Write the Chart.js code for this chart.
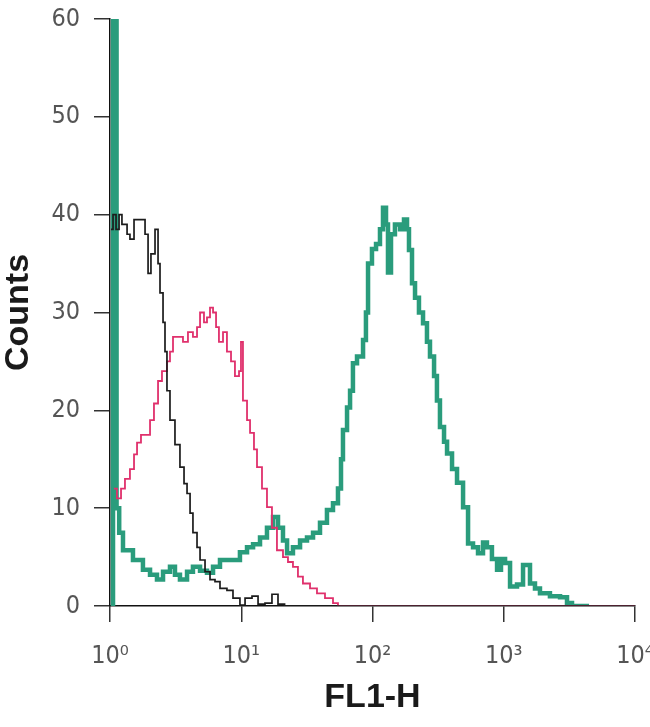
<!DOCTYPE html>
<html>
<head>
<meta charset="utf-8">
<script src="https://cdn.jsdelivr.net/npm/chart.js@4/dist/chart.umd.min.js"></script>
<style>
  html, body { margin: 0; padding: 0; background: #fff; }
  #wrap { width: 650px; height: 727px; }
</style>
</head>
<body>
<div id="wrap"><canvas id="histChart" width="650" height="727"></canvas></div>
<script>
// x positions are in log10 decades of FL1-H (0 = 10^0 ... 4 = 10^4)
const decadeTicks = [0, 1, 2, 3, 4];
const decadeLabels = ['10\u2070', '10\u00b9', '10\u00b2', '10\u00b3', '10\u2074'];
const countTicks = [0, 10, 20, 30, 40, 50, 60];

// isotype control (black)
const blackX = [0.008, 0.023, 0.046, 0.069, 0.091, 0.130, 0.152, 0.183, 0.229, 0.267, 0.290, 0.312, 0.343, 0.366, 0.381, 0.404, 0.419, 0.434, 0.457, 0.495, 0.533, 0.564, 0.587, 0.610, 0.632, 0.663, 0.686, 0.724, 0.762, 0.800, 0.838, 0.891, 0.937, 0.990, 1.029, 1.082, 1.128, 1.181, 1.234, 1.280, 1.330, 4.0];
const blackCounts = [38.5, 40, 38.5, 40, 39, 38, 37.5, 39.5, 39.5, 38, 34, 36, 38.5, 35, 32, 29, 26, 22, 19, 16.5, 14.2, 12.5, 11.5, 9.5, 7.5, 6, 4.7, 3.5, 2.7, 2.5, 1.8, 1.6, 0.8, 0.1, 0.8, 1, 0.2, 0.3, 1.2, 0.2, 0, 0];

// magenta
const pinkX = [0.030, 0.053, 0.084, 0.114, 0.152, 0.183, 0.206, 0.236, 0.274, 0.305, 0.335, 0.366, 0.396, 0.434, 0.457, 0.480, 0.518, 0.556, 0.594, 0.632, 0.663, 0.686, 0.716, 0.739, 0.762, 0.785, 0.808, 0.830, 0.861, 0.891, 0.922, 0.952, 0.983, 0.998, 1.013, 1.044, 1.067, 1.097, 1.120, 1.158, 1.196, 1.234, 1.272, 1.318, 1.356, 1.394, 1.432, 1.470, 1.524, 1.577, 1.638, 1.699, 1.737, 4.0];
const pinkCounts = [12, 11, 12, 13, 14, 15.5, 16.7, 17.5, 17.5, 19, 20.7, 23, 24, 25, 26, 27.5, 27.5, 27, 28, 27.5, 28.5, 30, 29, 29.5, 30.5, 30, 28.5, 27, 28, 26, 25, 23.5, 24, 27, 21, 19, 17.7, 16, 14.2, 12, 10.1, 8, 5.7, 5, 4.5, 4, 3, 2.3, 1.8, 1.3, 0.8, 0.3, 0, 0];

// stained sample (teal)
const tealX = [0.023, 0.023, 0.050, 0.070, 0.099, 0.175, 0.251, 0.305, 0.358, 0.404, 0.457, 0.495, 0.533, 0.587, 0.632, 0.686, 0.739, 0.785, 0.838, 0.937, 0.990, 1.044, 1.090, 1.143, 1.196, 1.242, 1.280, 1.318, 1.349, 1.394, 1.448, 1.501, 1.547, 1.600, 1.653, 1.699, 1.737, 1.760, 1.775, 1.806, 1.829, 1.851, 1.882, 1.928, 1.950, 1.966, 1.996, 2.027, 2.057, 2.080, 2.103, 2.118, 2.141, 2.171, 2.210, 2.240, 2.263, 2.278, 2.301, 2.324, 2.354, 2.385, 2.415, 2.438, 2.469, 2.491, 2.514, 2.545, 2.568, 2.606, 2.644, 2.690, 2.728, 2.766, 2.804, 2.842, 2.872, 2.910, 2.949, 2.979, 3.010, 3.048, 3.101, 3.147, 3.200, 3.238, 3.276, 3.352, 3.429, 3.482, 3.520, 3.650];
const tealCounts = [0, 70, 10, 7.5, 5.7, 4.7, 3.7, 3.2, 2.7, 3.5, 4, 3.2, 2.7, 3.5, 4, 3.6, 3.4, 4, 4.7, 4.7, 5.5, 6, 6.3, 7, 8, 9.1, 8, 6.7, 5.4, 6, 6.7, 7, 7.5, 8.5, 9.8, 10.5, 12, 15, 18, 20.3, 22, 24.8, 25.5, 27.2, 30, 35, 36.5, 37, 38.5, 40.7, 39, 34.1, 38, 39, 38.5, 39.5, 38.5, 36.4, 33, 31.5, 30, 28.9, 27, 25.5, 23.5, 21, 18.3, 16.8, 15.6, 14, 12.6, 10.1, 6.4, 6, 5.4, 6.5, 6, 4.8, 3.7, 4.8, 4.4, 2, 2.2, 4.2, 2.3, 1.8, 1.3, 1.0, 0.9, 0.3, 0, 0];

const toPoints = (xs, ys) => xs.map((x, i) => ({ x: x, y: ys[i] }));

const tickFont = { family: "'Liberation Sans Narrow', 'DejaVu Sans Condensed', sans-serif", size: 25 };
const titleFont = { family: "'Liberation Sans', Arial, sans-serif", size: 34, weight: 'bold', lineHeight: 1 };

// keep the plot box where the layout padding puts it (labels may overhang)
const noEdgePadding = (scale) => {
    scale.paddingTop = 0;
    scale.paddingBottom = 0;
    scale.paddingLeft = 0;
    scale.paddingRight = 0;
};

new Chart(document.getElementById('histChart'), {
    type: 'line',
    data: {
        datasets: [
            { label: 'Black', data: toPoints(blackX, blackCounts), borderColor: '#1c1c1c', borderWidth: 1.7, stepped: true, pointRadius: 0, fill: false },
            { label: 'Magenta', data: toPoints(pinkX, pinkCounts), borderColor: '#e0306c', borderWidth: 1.8, stepped: true, pointRadius: 0, fill: false },
            { label: 'Teal', data: toPoints(tealX, tealCounts), borderColor: '#2a9c7c', borderWidth: 4.5, stepped: true, pointRadius: 0, fill: false }
        ]
    },
    options: {
        responsive: false,
        animation: false,
        devicePixelRatio: 1,
        layout: { padding: { top: 19, right: 15, bottom: 0, left: 0 } },
        plugins: { legend: { display: false }, tooltip: { enabled: false } },
        scales: {
            x: {
                type: 'linear',
                min: 0,
                max: 4,
                afterFit: (scale) => { scale.height = 121; noEdgePadding(scale); },
                afterBuildTicks: (scale) => { scale.ticks = decadeTicks.map(v => ({ value: v })); },
                ticks: {
                    color: '#555',
                    font: tickFont,
                    padding: 19,
                    maxRotation: 0,
                    callback: (v) => decadeLabels[decadeTicks.indexOf(v)]
                },
                grid: { drawOnChartArea: false, drawTicks: true, tickLength: 16, color: '#333', lineWidth: 1.5 },
                border: { display: true, color: '#111', width: 1.5 },
                title: { display: true, text: 'FL1-H', color: '#1a1a1a', font: titleFont, padding: { top: 0, bottom: 12 } }
            },
            y: {
                min: 0,
                max: 60,
                afterFit: (scale) => { scale.width = 110; noEdgePadding(scale); },
                afterBuildTicks: (scale) => { scale.ticks = countTicks.map(v => ({ value: v })); },
                ticks: { color: '#555', font: tickFont, padding: 14 },
                grid: { drawOnChartArea: false, drawTicks: true, tickLength: 16, color: '#333', lineWidth: 1.5 },
                border: { display: true, color: '#111', width: 1.5 },
                title: { display: true, text: 'Counts', color: '#1a1a1a', font: titleFont, padding: { top: 2, bottom: 0 } }
            }
        }
    }
});
</script>
</body>
</html>
